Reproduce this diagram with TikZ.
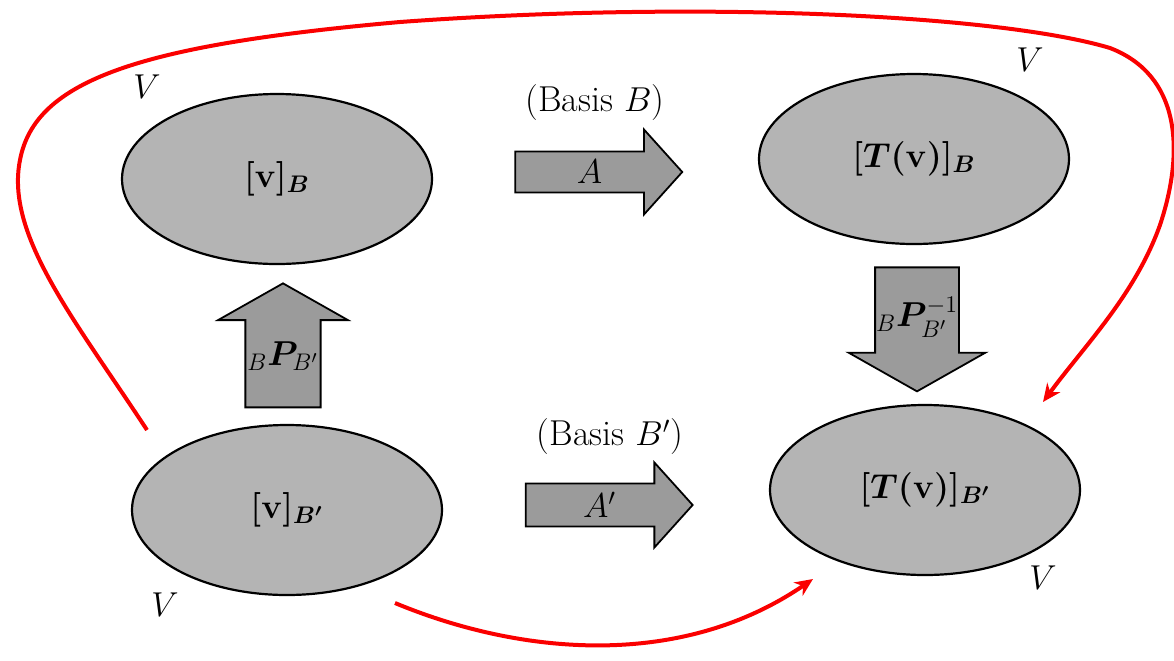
\documentclass[tikz,border=0pt]{standalone}
\usepackage{amsmath,amssymb,bm}
\usepackage{xcolor}
\usepackage{tikz}
\usetikzlibrary{arrows.meta,positioning,shapes.geometric,shapes.arrows}
\definecolor{setgray}{RGB}{180,180,180}
\definecolor{arrgray}{RGB}{155,155,155}
\definecolor{pathred}{RGB}{250,0,0}
\tikzset{
  space/.style={ellipse, draw=black, line width=1.1pt, fill=setgray,
                minimum width=155pt, minimum height=85pt, inner sep=0pt,
                font=\fontsize{18}{22}\selectfont\boldmath},
  blockarr/.style={single arrow, draw=black, line width=0.9pt, fill=arrgray,
                   inner sep=0pt, font=\fontsize{18}{22}\selectfont},
  harr/.style={blockarr, minimum height=83.5pt, minimum width=42.5pt,
               single arrow head extend=6.8pt, single arrow tip angle=96},
  varr/.style={blockarr, minimum height=62pt, minimum width=65pt,
               single arrow head extend=13.25pt, single arrow tip angle=121,
               shape border rotate=#1},
  lbl/.style={font=\fontsize{18}{22}\selectfont, inner sep=1pt},
  redarr/.style={-{Stealth[length=9pt, width=8pt]}, line width=2pt, pathred},
}

\begin{document}
\begin{tikzpicture}[x=0.5pt, y=-0.5pt]
  \useasboundingbox (0,0) rectangle (1174,660);
  % the four coordinate spaces
  \node[space] (vB)   at (277,179) {$[\mathbf{v}]_{B}$};
  \node[space] (TvB)  at (914,159) {$[T(\mathbf{v})]_{B}$};
  \node[space] (vBp)  at (287,510) {$[\mathbf{v}]_{B'}$};
  \node[space] (TvBp) at (925,490) {$[T(\mathbf{v})]_{B'}$};
  \node[lbl] (V1) at (147,87)  {$V$};
  \node[lbl] (V2) at (1030,60) {$V$};
  \node[lbl] (V3) at (165,605) {$V$};
  \node[lbl] (V4) at (1043,578) {$V$};

  % block arrows
  \node[harr] (mapA)  at (589.5,172) {$A$};
  \node[harr] (mapAp) at (599.5,505) {$A'$};
  \node[varr=90]  (chgP)  at (283,356)   {${}_{B}\bm{P}_{B'}$};
  \node[varr=270] (chgPi) at (917,317.5) {${}_{B}\bm{P}^{-1}_{B'}$};
  \node[lbl] (basB)  at (595,103) {(Basis $B$)};
  \node[lbl] (basBp) at (610,437) {(Basis $B'$)};

  % red paths
  \coordinate (loopa) at (147,430);
  \coordinate (loopb) at (1043,402);
  \coordinate (loopc) at (395,603);
  \coordinate (loopd) at (813,579);
  \draw[redarr] (loopa) .. controls (75,320) and (5,235) .. (20,160)
        .. controls (35,80) and (140,45) .. (400,22)
        .. controls (700,0) and (1000,15) .. (1110,48)
        .. controls (1180,75) and (1185,150) .. (1160,225)
        .. controls (1135,295) and (1085,345) .. (loopb);
  \draw[redarr] (loopc) .. controls (520,655) and (680,670) .. (loopd);
\end{tikzpicture}
\end{document}
